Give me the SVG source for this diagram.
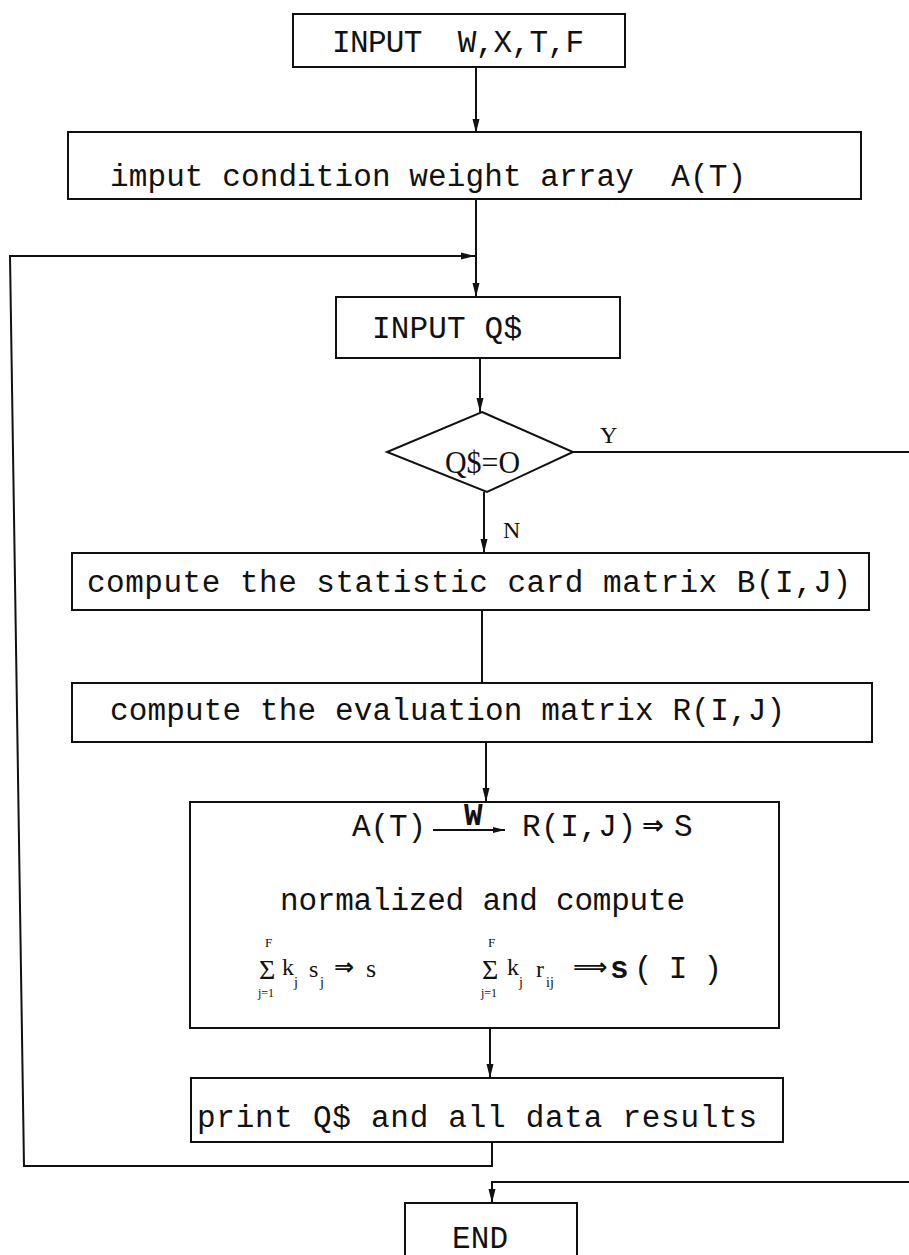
<svg xmlns="http://www.w3.org/2000/svg" width="909" height="1255" viewBox="0 0 909 1255">
  <defs>
    <style>
      .box{fill:none;stroke:#111;stroke-width:2}
      .ln{fill:none;stroke:#111;stroke-width:2}
      .t{font-family:"Liberation Mono","Courier New",monospace;font-size:31px;fill:#111}
      .sf{font-family:"Liberation Serif","Times New Roman",serif;fill:#111}
      .sym{font-family:"DejaVu Sans",sans-serif;fill:#111}
    </style>
    <marker id="ah" viewBox="0 0 14 10" refX="14" refY="5" markerWidth="14" markerHeight="10" markerUnits="userSpaceOnUse" orient="auto">
      <path d="M0,1.5 L14,5 L0,8.5 z" fill="#111"/>
    </marker>
    <marker id="ahs" viewBox="0 0 12 8" refX="12" refY="4" markerWidth="12" markerHeight="8" markerUnits="userSpaceOnUse" orient="auto">
      <path d="M0,1 L12,4 L0,7 z" fill="#111"/>
    </marker>
  </defs>
  <rect width="909" height="1255" fill="#fff"/>

  <!-- connectors -->
  <g id="connectors">
    <path class="ln" d="M476,67 V133" marker-end="url(#ah)"/>
    <path class="ln" d="M476,199 V297" marker-end="url(#ah)"/>
    <path class="ln" d="M492,1142 V1166 H24 L10,256 H475" marker-end="url(#ah)"/>
    <path class="ln" d="M480,358 V412" marker-end="url(#ah)"/>
    <path class="ln" d="M573,452 H909"/>
    <path class="ln" d="M484,492 V553" marker-end="url(#ah)"/>
    <path class="ln" d="M482,610 V683"/>
    <path class="ln" d="M486,742 V802" marker-end="url(#ah)"/>
    <path class="ln" d="M490,1028 V1078" marker-end="url(#ah)"/>
    <path class="ln" d="M909,1182 H492 V1203" marker-end="url(#ah)"/>
    <text class="sf" x="600" y="443" font-size="24">Y</text>
    <text class="sf" x="503" y="538" font-size="24">N</text>
  </g>

  <g id="input-wxtf">
    <rect class="box" x="293" y="14" width="332" height="53"/>
    <text class="t" x="332" y="52" xml:space="preserve" textLength="252" lengthAdjust="spacing">INPUT  W,X,T,F</text>
  </g>

  <g id="input-weights">
    <rect class="box" x="68" y="132" width="793" height="67"/>
    <text class="t" x="110" y="186" xml:space="preserve" textLength="636" lengthAdjust="spacing">imput condition weight array  A(T)</text>
  </g>

  <g id="input-q">
    <rect class="box" x="336" y="297" width="284" height="61"/>
    <text class="t" x="372" y="338" textLength="150" lengthAdjust="spacing">INPUT Q$</text>
  </g>

  <g id="test-q">
    <polygon class="box" points="482,412 573,452 487,492 387,452"/>
    <text class="sf" x="445" y="473" font-size="32" textLength="75" lengthAdjust="spacingAndGlyphs">Q$=O</text>
  </g>

  <g id="stat-matrix">
    <rect class="box" x="72" y="553" width="797" height="57"/>
    <text class="t" x="87" y="592" textLength="764" lengthAdjust="spacing">compute the statistic card matrix B(I,J)</text>
  </g>

  <g id="eval-matrix">
    <rect class="box" x="72" y="683" width="800" height="59"/>
    <text class="t" x="110" y="720" textLength="675" lengthAdjust="spacing">compute the evaluation matrix R(I,J)</text>
  </g>

  <g id="fuzzy-eval">
    <rect class="box" x="190" y="802" width="589" height="226"/>
    <text class="t" x="352" y="836" textLength="74" lengthAdjust="spacing">A(T)</text>
    <path class="ln" d="M433,830 H505" stroke-width="1.5" marker-end="url(#ahs)"/>
    <text class="t" x="464" y="825" font-size="16" font-weight="bold">W</text>
    <text class="t" x="522" y="836" textLength="114" lengthAdjust="spacing">R(I,J)</text>
    <text class="sym" x="642" y="834" font-size="26" font-weight="bold">⇒</text>
    <text class="t" x="674" y="836">S</text>
    <text class="t" x="280" y="910" textLength="405" lengthAdjust="spacing">normalized and compute</text>

    <!-- first weighted sum -->
    <text class="sf" x="265" y="947" font-size="13">F</text>
    <text class="sf" x="259" y="979" font-size="28">Σ</text>
    <text class="sf" x="258" y="997" font-size="12">j=1</text>
    <text class="sf" x="282" y="975" font-size="24">k</text>
    <text class="sf" x="294" y="987" font-size="14">j</text>
    <text class="sf" x="309" y="977" font-size="24">s</text>
    <text class="sf" x="320" y="987" font-size="14">j</text>
    <text class="sym" x="334" y="975" font-size="24" font-weight="bold">⇒</text>
    <text class="sf" x="366" y="977" font-size="26">s</text>

    <!-- second weighted sum -->
    <text class="sf" x="488" y="947" font-size="13">F</text>
    <text class="sf" x="482" y="979" font-size="28">Σ</text>
    <text class="sf" x="481" y="997" font-size="12">j=1</text>
    <text class="sf" x="507" y="975" font-size="24">k</text>
    <text class="sf" x="519" y="987" font-size="14">j</text>
    <text class="sf" x="536" y="977" font-size="24">r</text>
    <text class="sf" x="546" y="987" font-size="14">ij</text>
    <text class="sym" x="573" y="975" font-size="24" font-weight="bold">⟹</text>
    <text class="t" x="610" y="978" font-weight="bold">s</text>
    <text class="t" x="634" y="978" textLength="88" lengthAdjust="spacing">(I)</text>
  </g>

  <g id="print-results">
    <rect class="box" x="191" y="1078" width="592" height="64"/>
    <text class="t" x="197" y="1127" textLength="560" lengthAdjust="spacing">print Q$ and all data results</text>
  </g>

  <g id="end">
    <path class="box" d="M405,1258 V1203 H577 V1258"/>
    <text class="t" x="452" y="1248" textLength="56" lengthAdjust="spacing">END</text>
  </g>
</svg>
